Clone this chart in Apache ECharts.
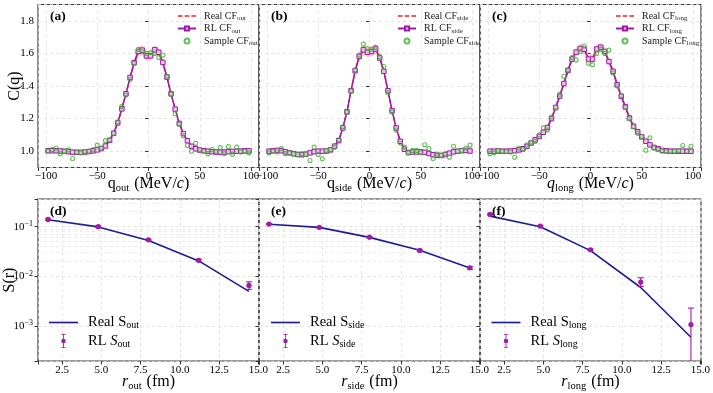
<!DOCTYPE html>
<html><head><meta charset="utf-8">
<script src="https://cdn.jsdelivr.net/npm/echarts@6/dist/echarts.min.js"></script>
<style>html,body{margin:0;padding:0;background:#fff}#c{width:713px;height:393px}</style>
</head><body><div id="c"></div><script>
// ---------- data ----------
const q = [-98,-94,-90,-86,-82,-78,-74,-70,-66,-62,-58,-54,-50,-46,-42,-38,-34,-30,-26,-22,-18,-14,-10,-6,-2,2,6,10,14,18,22,26,30,34,38,42,46,50,54,58,62,66,70,74,78,82,86,90,94,98];

const realOut = [1.000,1.000,1.000,1.000,1.000,0.999,0.998,0.997,0.997,0.998,1.000,1.003,1.008,1.017,1.033,1.066,1.112,1.176,1.260,1.352,1.450,1.540,1.605,1.615,1.590,1.590,1.615,1.605,1.540,1.450,1.352,1.260,1.172,1.110,1.064,1.031,1.015,1.007,1.003,1.000,0.998,0.997,0.997,0.997,0.998,0.999,1.000,1.000,1.000,1.000];
const rlOut = [1.003,1.003,1.003,1.001,1.000,0.997,0.994,0.993,0.993,0.995,0.998,1.002,1.008,1.016,1.032,1.066,1.110,1.174,1.260,1.352,1.452,1.543,1.612,1.620,1.585,1.585,1.622,1.607,1.545,1.455,1.352,1.258,1.170,1.108,1.064,1.030,1.015,1.007,1.003,1.000,0.997,0.995,0.994,0.995,0.997,0.999,1.000,1.001,1.002,1.002];
const sampleOut = [1.000,1.010,1.020,0.985,1.000,1.008,0.955,0.993,0.990,0.998,1.000,1.010,1.037,1.020,1.065,1.070,1.110,1.180,1.275,1.345,1.440,1.540,1.625,1.610,1.600,1.605,1.600,1.575,1.590,1.460,1.350,1.230,1.165,1.095,1.035,1.000,1.048,1.010,1.000,0.985,1.010,0.998,1.022,0.985,1.028,0.982,1.025,0.995,1.000,0.990];
const bandOut = [0.010,0.010,0.010,0.010,0.010,0.010,0.010,0.010,0.010,0.010,0.010,0.010,0.012,0.012,0.012,0.013,0.015,0.015,0.016,0.018,0.020,0.022,0.028,0.030,0.030,0.030,0.030,0.028,0.022,0.020,0.018,0.016,0.015,0.015,0.013,0.012,0.012,0.012,0.010,0.010,0.010,0.010,0.010,0.010,0.010,0.010,0.010,0.010,0.010,0.010];

const realSide = [1.000,1.002,1.003,1.002,0.997,0.991,0.986,0.982,0.980,0.983,0.990,0.996,1.000,1.001,1.002,1.009,1.032,1.067,1.145,1.243,1.372,1.493,1.580,1.620,1.610,1.610,1.622,1.575,1.492,1.372,1.247,1.143,1.062,1.013,0.994,0.995,0.996,0.995,0.992,0.985,0.979,0.976,0.976,0.980,0.988,0.995,1.000,1.003,1.004,1.001];
const rlSide = [1.000,1.003,1.005,1.003,0.996,0.990,0.985,0.980,0.978,0.982,0.990,0.997,1.000,1.000,1.001,1.008,1.031,1.065,1.143,1.241,1.371,1.494,1.581,1.622,1.608,1.612,1.627,1.572,1.490,1.371,1.249,1.143,1.061,1.012,0.992,0.995,0.996,0.996,0.993,0.986,0.978,0.974,0.974,0.979,0.988,0.996,1.000,1.003,1.005,1.001];
const sampleSide = [0.990,1.000,0.995,1.016,0.985,0.990,0.983,0.978,0.985,0.980,0.943,1.025,0.980,0.953,1.005,1.010,1.025,1.070,1.150,1.240,1.370,1.500,1.590,1.657,1.630,1.625,1.637,1.580,1.520,1.360,1.240,1.130,1.050,1.025,0.990,1.005,1.005,0.990,1.040,1.016,0.955,0.982,0.975,0.985,0.963,1.030,1.000,1.005,1.020,1.037];
const bandSide = [0.012,0.012,0.012,0.012,0.012,0.012,0.012,0.012,0.012,0.012,0.012,0.012,0.012,0.012,0.012,0.013,0.015,0.016,0.018,0.020,0.022,0.024,0.028,0.030,0.030,0.030,0.030,0.028,0.024,0.022,0.020,0.018,0.016,0.015,0.013,0.012,0.012,0.012,0.012,0.012,0.012,0.012,0.012,0.012,0.012,0.012,0.012,0.012,0.012,0.012];

const realLong = [1.000,1.000,1.000,1.000,1.000,1.001,1.003,1.008,1.016,1.030,1.049,1.069,1.090,1.116,1.147,1.200,1.266,1.338,1.414,1.493,1.562,1.607,1.628,1.622,1.570,1.570,1.625,1.633,1.610,1.552,1.490,1.410,1.337,1.272,1.204,1.153,1.118,1.088,1.061,1.039,1.023,1.014,1.006,1.002,1.000,1.000,1.000,1.000,1.000,1.000];
const rlLong = [1.000,1.000,1.001,1.000,1.000,1.001,1.003,1.008,1.015,1.030,1.050,1.070,1.090,1.116,1.145,1.200,1.268,1.338,1.415,1.495,1.565,1.608,1.630,1.625,1.565,1.565,1.627,1.637,1.612,1.550,1.490,1.408,1.337,1.272,1.204,1.153,1.119,1.088,1.061,1.039,1.023,1.015,1.005,1.002,1.000,1.000,1.000,1.000,1.000,1.000];
const sampleLong = [0.985,0.990,1.005,1.000,0.998,0.995,0.963,1.020,1.010,1.040,1.055,1.060,1.100,1.143,1.130,1.210,1.270,1.350,1.460,1.500,1.575,1.560,1.610,1.645,1.540,1.530,1.600,1.625,1.600,1.620,1.480,1.400,1.340,1.270,1.200,1.150,1.110,1.090,1.006,1.082,1.020,1.010,1.000,1.000,1.000,1.000,1.005,1.035,1.000,1.030];
const bandLong = [0.010,0.010,0.010,0.010,0.010,0.010,0.010,0.011,0.012,0.013,0.014,0.015,0.016,0.017,0.018,0.019,0.020,0.021,0.022,0.023,0.024,0.026,0.028,0.030,0.030,0.030,0.030,0.028,0.026,0.024,0.023,0.022,0.021,0.020,0.019,0.018,0.017,0.016,0.015,0.014,0.013,0.012,0.011,0.010,0.010,0.010,0.010,0.010,0.010,0.010];

const r = [1.6, 4.8, 8.0, 11.2, 14.4];
const realSOut = [0.138, 0.099, 0.053, 0.0205, 0.0050];
const rlSOut = [0.140, 0.100, 0.0544, 0.0211, 0.0066];
const rlSOutErrLo = [0.004, 0.003, 0.002, 0.0012, 0.0011];
const rlSOutErrHi = [0.004, 0.003, 0.002, 0.0012, 0.0012];
const realSSide = [0.112, 0.097, 0.061, 0.0335, 0.0148];
const rlSSide = [0.113, 0.097, 0.0615, 0.0334, 0.0149];
const rlSSideErrLo = [0.003, 0.003, 0.002, 0.0015, 0.0010];
const rlSSideErrHi = [0.003, 0.003, 0.002, 0.0015, 0.0010];
const realSLong = [0.163, 0.100, 0.033, 0.0060, 0.00060];
const rlSLong = [0.176, 0.103, 0.0344, 0.0077, 0.00108];
const rlSLongErrLo = [0.004, 0.003, 0.0015, 0.0014, 0.0012];
const rlSLongErrHi = [0.004, 0.003, 0.0015, 0.0017, 0.00123];

const xTicksTop = [-100, -50, 0, 50, 100];
const yTicksTop = [1.0, 1.2, 1.4, 1.6, 1.8];
const xTicksBottom = [2.5, 5.0, 7.5, 10.0, 12.5, 15.0];
const yTicksBottom = [0.001, 0.01, 0.1];

// ---------- styling ----------
const FONT = 'Liberation Serif';
const C_REAL = '#e8252a', C_RL = '#a21aa8', C_SAMPLE = '#3cb031', C_BAND = '#f6c6c6';
const C_SREAL = '#1c1c96', C_SRL = '#a21aa8';
const lefts = [38, 259, 480];
const W = 221, TOP1 = 4.5, TOP2 = 199, H = 163;

const grids = [];
for (let i = 0; i < 3; i++) grids.push({left: lefts[i], top: TOP1, width: W, height: H, show: true, borderColor: '#3a3a3a', borderWidth: 1.2, containLabel: false});
for (let i = 0; i < 3; i++) grids.push({left: lefts[i], top: TOP2, width: W, height: H, show: true, borderColor: '#3a3a3a', borderWidth: 1.2, containLabel: false});

const splitLine = {show: true, lineStyle: {color: '#dddddd', type: [3, 3], width: 0.8}};
const tick = {show: true, length: 3.5, lineStyle: {color: '#333', width: 1}};
const near = (v, arr) => arr.some(t => Math.abs(t - v) < 1e-6 * Math.max(1, Math.abs(t)));
const nameRich = {
  n: {fontFamily: FONT, fontSize: 16, color: '#000', lineHeight: 20},
  i: {fontFamily: FONT, fontSize: 16, color: '#000', fontStyle: 'italic', lineHeight: 20},
  s: {fontFamily: FONT, fontSize: 10.5, color: '#000', verticalAlign: 'bottom', lineHeight: 10, padding: [0, 1, 0, 0]}
};
const xNames = [
  '{n|q}{s|out}{n| (MeV/}{i|c}{n|)}',
  '{n|q}{s|side}{n| (MeV/}{i|c}{n|)}',
  '{i|q}{s|long}{n| (MeV/}{i|c}{n|)}',
  '{i|r}{s|out}{n| (fm)}',
  '{i|r}{s|side}{n| (fm)}',
  '{i|r}{s|long}{n| (fm)}'
];

const xAxes = [], yAxes = [];
for (let i = 0; i < 6; i++) {
  const top = i < 3;
  xAxes.push({
    type: 'value', gridIndex: i,
    min: top ? -107.8 : 0.96, max: top ? 107.8 : 15.04,
    minInterval: top ? null : 2.5, maxInterval: top ? null : 2.5,
    axisLine: {show: false}, axisTick: tick, splitLine: splitLine,
    axisLabel: {
      show: true, margin: top ? 3 : 4, color: '#000', fontFamily: FONT, fontSize: 11,
      formatter: top ? (v => near(v, xTicksTop) ? String(Math.round(v)).replace('-', '\u2212') : '')
                     : (v => near(v, xTicksBottom) ? v.toFixed(1) : '')
    },
    name: xNames[i], nameLocation: 'middle', nameGap: top ? 6 : 11, nameMoveOverlap: false,
    nameTextStyle: {rich: nameRich}
  });
  const first = (i % 3 === 0);
  yAxes.push(top ? {
    type: 'value', gridIndex: i, min: 0.9, max: 1.9,
    axisLine: {show: false}, axisTick: tick, splitLine: splitLine,
    axisLabel: {show: first, margin: 4, color: '#000', fontFamily: FONT, fontSize: 11,
      formatter: v => near(v, yTicksTop) ? v.toFixed(1) : ''},
    name: first ? '{n|C(q)}' : '', nameLocation: 'middle', nameGap: 13, nameMoveOverlap: false,
    nameTextStyle: {rich: nameRich}
  } : {
    type: 'log', logBase: 10, gridIndex: i, min: 0.0002, max: 0.36,
    axisLine: {show: false}, axisTick: tick, splitLine: splitLine,
    axisLabel: {show: first, margin: 5, color: '#000', fontFamily: FONT, fontSize: 11,
      formatter: v => near(v, yTicksBottom) ? '{b|10}{p|\u2212' + Math.round(-Math.log10(v)) + '}' : '',
      rich: {b: {fontFamily: FONT, fontSize: 11, color: '#000', lineHeight: 14},
             p: {fontFamily: FONT, fontSize: 8, color: '#000', verticalAlign: 'top', lineHeight: 8}}},
    name: first ? '{n|S(r)}' : '', nameLocation: 'middle', nameGap: 18, nameMoveOverlap: false,
    nameTextStyle: {rich: nameRich}
  });
}

const series = [];
const pairs = (xs, ys) => xs.map((x, k) => [x, ys[k]]);
const topSets = [
  ['out', realOut, rlOut, sampleOut, bandOut],
  ['side', realSide, rlSide, sampleSide, bandSide],
  ['long', realLong, rlLong, sampleLong, bandLong]
];
topSets.forEach(([tag, real, rl, samp, band], i) => {
  // uncertainty band: one polygon through the library's coordinate mapping
  series.push({name: 'band' + tag, type: 'custom', xAxisIndex: i, yAxisIndex: i, clip: true, silent: true, z: 1,
    data: [[q[0], rl[0]]],
    renderItem: (params, api) => {
      const pts = [];
      for (let k = 0; k < q.length; k++) pts.push(api.coord([q[k], rl[k] + band[k]]));
      for (let k = q.length - 1; k >= 0; k--) pts.push(api.coord([q[k], rl[k] - band[k]]));
      return {type: 'polygon', shape: {points: pts}, style: {fill: C_BAND}};
    }});
  series.push({name: 'Real CF_' + tag, type: 'line', xAxisIndex: i, yAxisIndex: i, data: pairs(q, real),
    symbol: 'none', showSymbol: false, lineStyle: {color: C_REAL, width: 1.3, type: [4, 2]}, itemStyle: {color: C_REAL}, z: 2});
  series.push({name: 'RL CF_' + tag, type: 'line', xAxisIndex: i, yAxisIndex: i, data: pairs(q, rl),
    symbol: 'rect', symbolSize: 4.5, showSymbol: true,
    lineStyle: {color: C_RL, width: 1.5}, itemStyle: {color: '#e8c2ea', borderColor: C_RL, borderWidth: 1}, z: 3});
  series.push({name: 'Sample CF_' + tag, type: 'scatter', xAxisIndex: i, yAxisIndex: i, data: pairs(q, samp),
    symbol: 'circle', symbolSize: 4, itemStyle: {color: 'rgba(255,255,255,0)', borderColor: C_SAMPLE, borderWidth: 1.1}, z: 4});
});

const minorVals = [];
[0.0001, 0.001, 0.01, 0.1].forEach(d => { for (let m = 2; m <= 9; m++) minorVals.push(+(m * d).toPrecision(3)); });

const botSets = [
  ['out', realSOut, rlSOut, rlSOutErrLo, rlSOutErrHi],
  ['side', realSSide, rlSSide, rlSSideErrLo, rlSSideErrHi],
  ['long', realSLong, rlSLong, rlSLongErrLo, rlSLongErrHi]
];
botSets.forEach(([tag, real, rl, lo, hi], j) => {
  const i = j + 3;
  series.push({name: 'minor' + tag, type: 'line', xAxisIndex: i, yAxisIndex: i, data: [], silent: true, z: 0,
    markLine: {silent: true, symbol: 'none', label: {show: false}, animation: false, z: 0,
      lineStyle: {color: '#e4e4e4', type: [3, 3], width: 0.7},
      data: minorVals.filter(v => v > 0.0002 && v < 0.36).map(v => ({yAxis: v}))}});
  series.push({name: 'Real S_' + tag, type: 'line', xAxisIndex: i, yAxisIndex: i, data: pairs(r, real),
    symbol: 'none', showSymbol: false, lineStyle: {color: C_SREAL, width: 1.6}, itemStyle: {color: C_SREAL}, z: 2});
  series.push({name: 'RL S_' + tag, type: 'custom', xAxisIndex: i, yAxisIndex: i, clip: true, z: 3,
    itemStyle: {color: C_SRL},
    data: r.map((x, k) => [x, rl[k], rl[k] - lo[k], rl[k] + hi[k]]),
    renderItem: (params, api) => {
      const x = api.value(0), y = api.value(1), l = api.value(2), h = api.value(3);
      const cs = params.coordSys;
      const p = api.coord([x, y]);
      const ph = api.coord([x, h]);
      let pl = l > 0 ? api.coord([x, l]) : [p[0], cs.y + cs.height + 5];
      const cap = 3, st = {stroke: C_SRL, lineWidth: 1.1};
      return {type: 'group', children: [
        {type: 'line', shape: {x1: p[0], y1: ph[1], x2: p[0], y2: pl[1]}, style: st},
        {type: 'line', shape: {x1: p[0] - cap, y1: ph[1], x2: p[0] + cap, y2: ph[1]}, style: st},
        {type: 'line', shape: {x1: p[0] - cap, y1: pl[1], x2: p[0] + cap, y2: pl[1]}, style: st},
        {type: 'circle', shape: {cx: p[0], cy: p[1], r: 2.6}, style: {fill: C_SRL}}
      ]};
    }});
});

// legends
const legRichTop = {
  n: {fontFamily: FONT, fontSize: 10, color: '#222', lineHeight: 12, padding: [0, 0, 0, 3]},
  s: {fontFamily: FONT, fontSize: 7, color: '#222', verticalAlign: 'bottom', lineHeight: 7}
};
const legRichBot = {
  n: {fontFamily: FONT, fontSize: 14.5, color: '#000', lineHeight: 16, padding: [0, 0, 0, 5]},
  i: {fontFamily: FONT, fontSize: 14.5, color: '#000', fontStyle: 'italic', lineHeight: 16},
  s: {fontFamily: FONT, fontSize: 10, color: '#000', verticalAlign: 'bottom', lineHeight: 9}
};
const legFmt = name => {
  const parts = name.split('_');
  if (parts[0] === 'RL S') return '{n|RL }{i|S}{s|' + parts[1] + '}';
  return '{n|' + parts[0] + '}{s|' + parts[1] + '}';
};
const errIcon = 'path://M2,0H8V1.2H2Z M4.4,0H5.6V20H4.4Z M2,18.8H8V20H2Z M8.2,10A3.2,3.2,0,1,1,1.8,10A3.2,3.2,0,1,1,8.2,10Z';
const dashIcon = 'path://M0,0H4.5V1.4H0Z M6.5,0H11V1.4H6.5Z M13,0H17.5V1.4H13Z';
const solidIcon = 'path://M0,0H30V1.7H0Z';
const legendTopLeft = [177, 397, 615];
const legendBotLeft = [49, 271, 491.5];
const legends = [];
['out', 'side', 'long'].forEach((tag, i) => {
  legends.push({left: legendTopLeft[i], top: 11, orient: 'vertical', itemWidth: 18, itemHeight: 5, itemGap: 1.5,
    selectedMode: false, padding: 0, symbolKeepAspect: true, formatter: legFmt, textStyle: {rich: legRichTop},
    data: [{name: 'Real CF_' + tag, icon: dashIcon}, 'RL CF_' + tag, 'Sample CF_' + tag]});
  legends.push({left: legendBotLeft[i], top: 315, orient: 'vertical', itemWidth: 29, itemHeight: 14, itemGap: 3,
    selectedMode: false, padding: 0, symbolKeepAspect: true, formatter: legFmt, textStyle: {rich: legRichBot},
    data: [{name: 'Real S_' + tag, icon: solidIcon}, {name: 'RL S_' + tag, icon: errIcon}]});
});

const panelLabels = [['(a)', 50, 18], ['(b)', 271, 18], ['(c)', 492, 18], ['(d)', 50, 213], ['(e)', 271, 213], ['(f)', 492, 213]];
const graphic = panelLabels.map(([t, x, y]) => ({type: 'text', left: x, top: y - 8, z: 100, silent: true,
  style: {text: t, fontFamily: FONT, fontSize: 13.5, fontWeight: 'bold', fill: '#000'}}));

const chart = echarts.init(document.getElementById('c'), null, {renderer: 'canvas'});
chart.setOption({
  animation: false, backgroundColor: '#fff',
  grid: grids, xAxis: xAxes, yAxis: yAxes, series: series, legend: legends, graphic: graphic,
  tooltip: {show: false}
});
</script></body></html>
